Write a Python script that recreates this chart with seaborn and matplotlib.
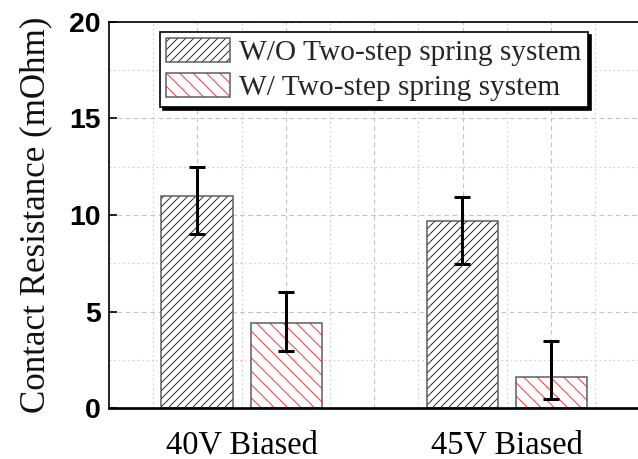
import numpy as np
import pandas as pd
import matplotlib
matplotlib.use("Agg")
import matplotlib.pyplot as plt
import seaborn as sns
from matplotlib.ticker import MultipleLocator, FuncFormatter, NullFormatter
from matplotlib.colors import to_rgba

# ---- data ----
categories = ["40V Biased", "45V Biased"]
series_names = ["W/O Two-step spring system", "W/ Two-step spring system"]
wo_values = [11.0, 9.7]
wo_low = [9.0, 7.45]
wo_high = [12.5, 10.95]
w_values = [4.4, 1.6]
w_low = [2.95, 0.45]
w_high = [6.0, 3.45]
y_ticks = [0, 5, 10, 15, 20]

df = pd.DataFrame({
    "cond": categories * 2,
    "system": [series_names[0]] * 2 + [series_names[1]] * 2,
    "value": wo_values + w_values,
})

sns.set_theme(style="white")
plt.rcParams["font.family"] = ["Liberation Serif", "DejaVu Serif"]
plt.rcParams["hatch.linewidth"] = 0.6

fig = plt.figure(figsize=(638 / 120, 459 / 120), dpi=120)
ax = fig.add_axes([0.1708, 0.1111, 0.8316, 0.8410])

sns.barplot(data=df, x="cond", y="value", hue="system", order=categories,
            hue_order=series_names, palette=["white", "white"],
            width=0.672, gap=0.2, errorbar=None, legend=False,
            edgecolor="#5a5a5a", linewidth=0.9, ax=ax, zorder=2)

hatches = ["/////", "\\\\\\"]
hatch_colors = ["#303030", "#ff3b3b"]
lows = [wo_low, w_low]
highs = [wo_high, w_high]
vals = [wo_values, w_values]
bar_containers = list(ax.containers)
for i, cont in enumerate(bar_containers):
    xs = []
    for p in cont.patches:
        p.set_hatch(hatches[i])
        p._hatch_color = to_rgba(hatch_colors[i])
        xs.append(p.get_x() + p.get_width() / 2)
    v = np.array(vals[i])
    yerr = [v - np.array(lows[i]), np.array(highs[i]) - v]
    ax.errorbar(xs, v, yerr=yerr, fmt="none", ecolor="black",
                elinewidth=1.8, capsize=5.0, capthick=1.8, zorder=4)

ax.set_xlim(-0.5, 1.5)
ax.set_ylim(0, 20)

# y axis
ax.set_yticks(y_ticks)
ax.yaxis.set_minor_locator(MultipleLocator(2.5))
ax.set_yticklabels([str(t) for t in y_ticks], fontsize=17, fontweight="bold",
                   family=["Liberation Sans", "DejaVu Sans"])
ax.tick_params(axis="y", which="major", direction="in", length=5, width=1,
               pad=5, colors="black", left=True)
ax.tick_params(axis="y", which="minor", length=0)

# x axis: dashed major grid at thirds offset by half, dotted minor grid, labels on minor ticks at categories
ax.xaxis.set_major_locator(MultipleLocator(1 / 3, offset=-0.5))
ax.xaxis.set_major_formatter(NullFormatter())
ax.xaxis.set_minor_locator(MultipleLocator(1 / 3))

def cat_fmt(x, pos):
    k = int(round(x))
    if abs(x - k) < 1e-6 and 0 <= k < len(categories):
        return categories[k]
    return ""

ax.xaxis.set_minor_formatter(FuncFormatter(cat_fmt))
ax.tick_params(axis="x", which="both", length=0)
ax.tick_params(axis="x", which="minor", labelsize=19.5, pad=13, labelcolor="black")

ax.grid(True, which="major", linestyle=(0, (4, 3)), color="#c4c4c4", linewidth=0.7, zorder=0)
ax.grid(True, which="minor", linestyle=(0, (1.5, 2.5)), color="#cfcfcf", linewidth=0.7, zorder=0)
ax.set_axisbelow(True)

ax.set_xlabel("")
ax.set_ylabel("Contact Resistance (mOhm)", fontsize=21, labelpad=10, color="#111111")

for s in ["left", "top", "right"]:
    ax.spines[s].set_color("black")
    ax.spines[s].set_linewidth(1.0)
ax.spines["bottom"].set_color("black")
ax.spines["bottom"].set_linewidth(1.6)

leg = ax.legend(handles=bar_containers, labels=series_names, loc="upper left",
                bbox_to_anchor=(0.0961, 0.974), borderaxespad=0, fontsize=17.6,
                frameon=True, fancybox=False, shadow={"color": "black", "alpha": 1},
                edgecolor="black", framealpha=1, handlelength=2.2, handleheight=0.9,
                handletextpad=0.3, labelspacing=0.22, borderpad=0.2)
leg.get_frame().set_linewidth(1.0)

fig.savefig("out.png", dpi=120)
